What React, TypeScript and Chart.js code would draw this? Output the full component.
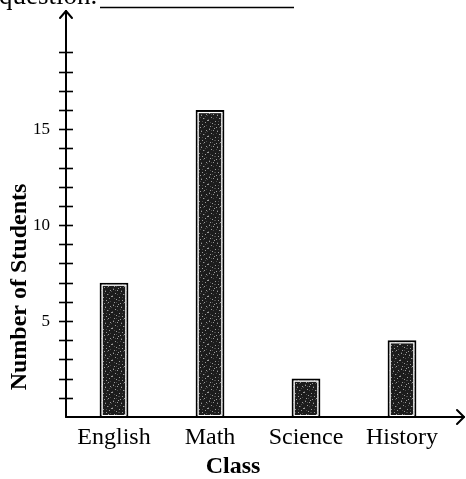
import React, { useEffect, useRef } from 'react';
import { Chart, registerables } from 'chart.js';

Chart.register(...registerables);

const categories = ['English', 'Math', 'Science', 'History'];
const students = [7, 16, 2, 4];
const yMarkValues = [1, 2, 3, 4, 5, 6, 7, 8, 9, 10, 11, 12, 13, 14, 15, 16, 17, 18, 19];
const yLabeledValues = [5, 10, 15];
const yMax = 21;
const headerText = 'question.';
const xTitle = 'Class';
const yTitle = 'Number of Students';

const SERIF = '"Liberation Serif", "Times New Roman", serif';

// speckle texture positions for the bar fill (style only)
const speckles: [number, number][] = [
  [1, 1], [6, 0], [9, 3], [3, 5], [11, 6], [0, 8], [7, 9], [4, 11], [10, 12], [2, 14],
  [13, 10], [8, 15], [14, 2], [5, 2], [12, 14], [15, 8],
];

function makePattern(ctx: CanvasRenderingContext2D): CanvasPattern | string {
  const c = document.createElement('canvas');
  c.width = 16;
  c.height = 16;
  const p = c.getContext('2d');
  if (!p) return '#2a2a2a';
  p.fillStyle = '#1c1c1c';
  p.fillRect(0, 0, 16, 16);
  p.fillStyle = '#9a9a9a';
  speckles.forEach(([x, y]) => p.fillRect(x, y, 1, 1));
  p.fillStyle = '#4a4a4a';
  speckles.forEach(([x, y]) => p.fillRect((x + 7) % 16, (y + 4) % 16, 1, 1));
  return ctx.createPattern(c, 'repeat') || '#2a2a2a';
}

const decorPlugin = {
  id: 'decor',
  afterDatasetsDraw(chart: any) {
    const ctx: CanvasRenderingContext2D = chart.ctx;
    const meta = chart.getDatasetMeta(0);
    ctx.save();
    ctx.strokeStyle = '#ffffff';
    ctx.lineWidth = 1.2;
    meta.data.forEach((bar: any) => {
      const { x, y, base, width } = bar.getProps(['x', 'y', 'base', 'width'], true);
      ctx.strokeRect(x - width / 2 + 2.6, y + 2.6, width - 5.2, base - y - 4);
    });
    ctx.restore();
  },
  afterDraw(chart: any) {
    const ctx: CanvasRenderingContext2D = chart.ctx;
    const { left, right, top, bottom } = chart.chartArea;
    const ys = chart.scales.y;
    ctx.save();
    ctx.strokeStyle = '#000';
    ctx.fillStyle = '#000';
    ctx.lineWidth = 2;
    ctx.lineCap = 'round';
    ctx.lineJoin = 'round';

    // y axis with arrow
    ctx.beginPath();
    ctx.moveTo(left, bottom);
    ctx.lineTo(left, top - 3);
    ctx.stroke();
    ctx.beginPath();
    ctx.moveTo(left - 6, top + 4);
    ctx.lineTo(left, top - 3);
    ctx.lineTo(left + 6, top + 4);
    ctx.stroke();

    // x axis with arrow
    const xEnd = right + 14;
    ctx.beginPath();
    ctx.moveTo(left, bottom);
    ctx.lineTo(xEnd, bottom);
    ctx.stroke();
    ctx.beginPath();
    ctx.moveTo(xEnd - 7, bottom - 7);
    ctx.lineTo(xEnd, bottom);
    ctx.lineTo(xEnd - 7, bottom + 7);
    ctx.stroke();

    // tick marks crossing the y axis
    ctx.lineWidth = 1.6;
    ctx.lineCap = 'butt';
    yMarkValues.forEach((v) => {
      const py = Math.round(ys.getPixelForValue(v)) + 0.5;
      ctx.beginPath();
      ctx.moveTo(left - 7, py);
      ctx.lineTo(left + 7, py);
      ctx.stroke();
    });

    // header remnant
    ctx.font = `27px ${SERIF}`;
    ctx.textAlign = 'left';
    ctx.textBaseline = 'alphabetic';
    ctx.fillText(headerText, -1, 4);
    ctx.lineWidth = 1.6;
    ctx.beginPath();
    ctx.moveTo(100, 7.5);
    ctx.lineTo(294, 7.5);
    ctx.stroke();

    // axis titles
    ctx.font = `bold 24px ${SERIF}`;
    ctx.textAlign = 'center';
    ctx.fillText(xTitle, 233, 473);

    ctx.save();
    ctx.translate(26, 287);
    ctx.rotate(-Math.PI / 2);
    ctx.fillText(yTitle, 0, 0);
    ctx.restore();

    ctx.restore();
  },
};

export default function App() {
  const canvasRef = useRef<HTMLCanvasElement | null>(null);

  useEffect(() => {
    const canvas = canvasRef.current;
    if (!canvas) return;
    const ctx = canvas.getContext('2d');
    if (!ctx) return;
    const pattern = makePattern(ctx);

    const chart = new Chart(canvas, {
      type: 'bar',
      data: {
        labels: categories,
        datasets: [
          {
            data: students,
            backgroundColor: pattern as any,
            borderColor: '#000',
            borderWidth: 2,
            borderSkipped: false,
            barPercentage: 0.3,
            categoryPercentage: 1,
          },
        ],
      },
      options: {
        responsive: false,
        animation: false,
        events: [],
        layout: { padding: { top: 14, right: 16, left: 0, bottom: 0 } },
        plugins: {
          legend: { display: false },
          tooltip: { enabled: false },
          title: { display: false },
        },
        scales: {
          x: {
            type: 'category',
            offset: true,
            border: { display: false },
            grid: { display: false, drawTicks: false },
            ticks: {
              color: '#000',
              font: { family: SERIF, size: 24 },
              padding: 6,
              maxRotation: 0,
              autoSkip: false,
            },
            afterFit: (s: any) => {
              s.height = 62;
              s.paddingLeft = 0;
              s.paddingRight = 0;
            },
          },
          y: {
            min: 0,
            max: yMax,
            border: { display: false },
            grid: { display: false, drawTicks: false },
            ticks: {
              stepSize: 1,
              color: '#000',
              font: { family: SERIF, size: 17 },
              padding: 16,
              autoSkip: false,
              callback: (v: any) => (yLabeledValues.includes(Number(v)) ? String(v) : ''),
            },
            afterFit: (s: any) => {
              s.width = 66;
              s.paddingTop = 0;
              s.paddingBottom = 0;
            },
          },
        },
      },
      plugins: [decorPlugin],
    });

    return () => chart.destroy();
  }, []);

  return (
    <div style={{ position: 'fixed', left: 0, top: 0, width: 466, height: 479, background: '#fff' }}>
      <canvas ref={canvasRef} width={466} height={479} />
    </div>
  );
}
